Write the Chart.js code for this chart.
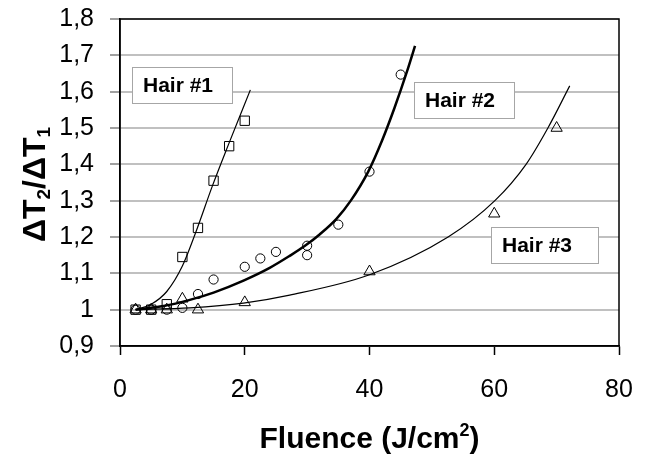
<!DOCTYPE html>
<html>
<head>
<meta charset="utf-8">
<script src="https://cdn.jsdelivr.net/npm/chart.js@4.4.0/dist/chart.umd.min.js"></script>
<style>
    html, body { margin: 0; padding: 0; background: #fff; }
    #wrap { width: 648px; height: 455px; position: relative; }
</style>
</head>
<body>
<div id="wrap"><canvas id="fluenceChart"></canvas></div>
<script>
const FONT = "'Liberation Sans', Arial, sans-serif";

// measured points (fluence J/cm2 -> dT2/dT1)
const hair1X = [2.5, 5, 7.5, 10, 12.5, 15, 17.5, 20];
const hair1Y = [1.0, 1.0, 1.015, 1.145, 1.225, 1.355, 1.45, 1.52];
const hair2X = [2.5, 5, 7.5, 10, 12.5, 15, 20, 22.5, 25, 30, 30, 35, 40, 45];
const hair2Y = [1.0, 1.0, 1.0, 1.005, 1.043, 1.083, 1.118, 1.141, 1.159, 1.176, 1.15, 1.234, 1.38, 1.647];
const hair3X = [2.5, 5, 7.5, 10, 12.5, 20, 40, 60, 70];
const hair3Y = [1.0, 1.0, 1.0, 1.03, 1.0, 1.02, 1.105, 1.264, 1.5];

// trend curves
const fit1X = [2.5, 5, 7.5, 10, 12.3, 14.8, 17.4, 20.9];
const fit1Y = [1.0, 1.015, 1.05, 1.12, 1.22, 1.34, 1.455, 1.605];
const fit2X = [2.5, 7, 11.2, 15, 19.8, 24, 27.2, 29.6, 32, 34.7, 37, 39.8, 42, 44, 46, 47.3];
const fit2Y = [1.0, 1.01, 1.027, 1.047, 1.08, 1.115, 1.148, 1.175, 1.207, 1.25, 1.3, 1.38, 1.465, 1.555, 1.655, 1.726];
const fit3X = [2.5, 11.2, 19.8, 27.2, 40, 52.6, 60.1, 65.1, 68.6, 72.1];
const fit3Y = [1.0, 1.005, 1.018, 1.04, 1.096, 1.2, 1.3, 1.4, 1.5, 1.616];

// tick setup
const xTicks = [0, 20, 40, 60, 80];
const yMin = 0.9, yMax = 1.8, yStep = 0.1;

function pts(xs, ys) {
    return xs.map((x, i) => ({ x: x, y: ys[i] }));
}

function fitLine(xs, ys, width) {
    return {
        data: pts(xs, ys),
        showLine: true,
        borderColor: '#000',
        borderWidth: width,
        pointRadius: 0,
        cubicInterpolationMode: 'monotone',
        fill: false,
        order: 2
    };
}

function markers(xs, ys, style, r) {
    return {
        data: pts(xs, ys),
        showLine: false,
        pointStyle: style,
        pointRadius: r,
        pointBorderColor: '#000',
        pointBackgroundColor: 'rgba(0,0,0,0)',
        pointBorderWidth: 1,
        order: 1
    };
}

// draws pieces of text one after another (for sub/superscripts)
function drawParts(ctx, parts, startX) {
    let x = startX;
    parts.forEach(p => {
        ctx.font = p[1];
        ctx.fillText(p[0], x, p[2]);
        x += ctx.measureText(p[0]).width;
    });
}

function partsWidth(ctx, parts) {
    let total = 0;
    parts.forEach(p => { ctx.font = p[1]; total += ctx.measureText(p[0]).width; });
    return total;
}

// text boxes placed in data units (top-left corner), size in px
const labelBoxes = [
    { text: 'Hair #1', x: 1.9, y: 1.669, w: 100 },
    { text: 'Hair #2', x: 47.1, y: 1.627, w: 100 },
    { text: 'Hair #3', x: 59.5, y: 1.227, w: 107 }
];

// frame, label boxes and axis titles
const decorations = {
    id: 'decorations',
    beforeDatasetsDraw(chart) {
        const ctx = chart.ctx, a = chart.chartArea;
        ctx.save();
        ctx.strokeStyle = '#000';
        ctx.lineWidth = 1.5;
        ctx.strokeRect(a.left, a.top, a.right - a.left, a.bottom - a.top);
        ctx.restore();
    },
    afterDatasetsDraw(chart) {
        const ctx = chart.ctx;
        const xs = chart.scales.x, ys = chart.scales.y;
        const a = chart.chartArea;
        ctx.save();
        ctx.font = 'bold 21px ' + FONT;
        ctx.textBaseline = 'middle';
        labelBoxes.forEach(b => {
            const left = Math.round(xs.getPixelForValue(b.x));
            const top = Math.round(ys.getPixelForValue(b.y));
            const h = 36;
            ctx.fillStyle = '#fff';
            ctx.fillRect(left, top, b.w, h);
            ctx.strokeStyle = '#a6a6a6';
            ctx.lineWidth = 1;
            ctx.strokeRect(left + 0.5, top + 0.5, b.w, h);
            ctx.fillStyle = '#000';
            ctx.fillText(b.text, left + 11, top + h / 2 + 1);
        });

        ctx.textBaseline = 'alphabetic';
        ctx.textAlign = 'left';

        // x title
        const big = 'bold 30px ' + FONT, small = 'bold 18px ' + FONT;
        const xParts = [['Fluence (J/cm', big, 0], ['2', small, -12], [')', big, 0]];
        ctx.save();
        ctx.translate((a.left + a.right) / 2, 448);
        drawParts(ctx, xParts, -partsWidth(ctx, xParts) / 2);
        ctx.restore();

        // y title, rotated
        const ybig = 'bold 32px ' + FONT, ysmall = 'bold 19px ' + FONT;
        const yParts = [['\u0394T', ybig, 0], ['2', ysmall, 5], ['/\u0394T', ybig, 0], ['1', ysmall, 5]];
        ctx.translate(45, (a.top + a.bottom) / 2 + 2);
        ctx.rotate(-Math.PI / 2);
        drawParts(ctx, yParts, -partsWidth(ctx, yParts) / 2);
        ctx.restore();
    }
};

const ctx = document.getElementById('fluenceChart').getContext('2d');
new Chart(ctx, {
    type: 'scatter',
    data: {
        datasets: [
            fitLine(fit1X, fit1Y, 1.2),
            fitLine(fit2X, fit2Y, 2.5),
            fitLine(fit3X, fit3Y, 1.2),
            markers(hair1X, hair1Y, 'rect', 6.6),
            markers(hair2X, hair2Y, 'circle', 4.6),
            markers(hair3X, hair3Y, 'triangle', 6.5)
        ]
    },
    options: {
        responsive: true,
        maintainAspectRatio: false,
        animation: false,
        layout: { padding: { top: 19, right: 29, bottom: 0, left: 0 } },
        plugins: {
            legend: { display: false },
            tooltip: { enabled: false }
        },
        scales: {
            x: {
                type: 'linear',
                min: 0,
                max: 80,
                afterBuildTicks: (scale) => { scale.ticks = xTicks.map(v => ({ value: v })); },
                afterFit: (scale) => {
                    scale.height = 109;
                    scale.paddingLeft = 0;
                    scale.paddingRight = 0;
                },
                ticks: {
                    color: '#000',
                    font: { family: FONT, size: 25 },
                    padding: 20,
                    maxRotation: 0
                },
                grid: {
                    drawOnChartArea: false,
                    tickLength: 9,
                    tickColor: '#000',
                    tickWidth: 1.5
                },
                border: { color: '#000', width: 1.5 }
            },
            y: {
                min: yMin,
                max: yMax,
                afterFit: (scale) => {
                    scale.width = 120;
                    scale.paddingTop = 0;
                    scale.paddingBottom = 0;
                },
                ticks: {
                    stepSize: yStep,
                    color: '#000',
                    font: { family: FONT, size: 25 },
                    padding: 16,
                    callback: (v) => String(Math.round(v * 10) / 10).replace('.', ',')
                },
                grid: {
                    color: '#c0c0c0',
                    lineWidth: 2,
                    tickLength: 10,
                    tickColor: '#a0a0a0'
                },
                border: { color: '#000', width: 1.5 }
            }
        }
    },
    plugins: [decorations]
});
</script>
</body>
</html>
